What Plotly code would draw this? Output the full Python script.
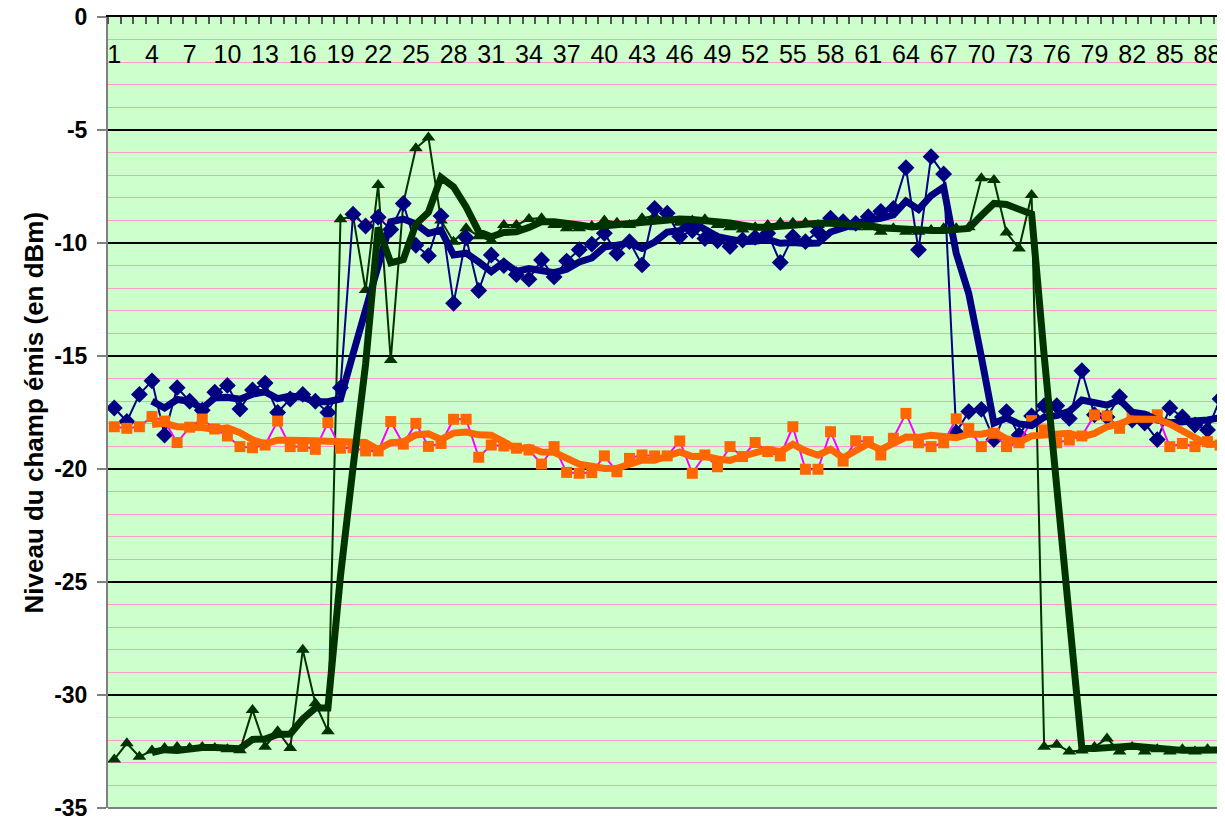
import numpy as np
import plotly.graph_objects as go

categories = list(range(1, 90))

blue_raw = [-17.3, -17.9, -16.7, -16.1, -18.5, -16.4, -17.0, -17.4, -16.6, -16.3,
            -17.35, -16.5, -16.2, -17.5, -16.9, -16.7, -17.0, -17.5, -16.4, -8.73,
            -9.25, -8.86, -9.4, -8.25, -10.1, -10.56, -8.8, -12.67, -9.77, -12.1,
            -10.53, -11.0, -11.4, -11.6, -10.75, -11.5, -10.8, -10.3, -10.05, -9.57,
            -10.46, -9.94, -10.97, -8.47, -8.68, -9.71, -9.45, -9.8, -9.9, -10.16,
            -9.87, -9.75, -9.57, -10.86, -9.72, -9.94, -9.5, -8.9, -9.06, -9.13,
            -8.84, -8.6, -8.47, -6.67, -10.3, -6.18, -6.95, -18.38, -17.46, -17.36,
            -18.7, -17.46, -18.5, -17.65, -17.2, -17.2, -17.76, -15.65, -17.6, -17.7,
            -16.8, -17.83, -17.97, -18.7, -17.3, -17.7, -18.05, -18.27, -16.9]

green_raw = [-32.85, -32.14, -32.73, -32.46, -32.35, -32.3, -32.35, -32.3, -32.35, -32.4,
             -32.45, -30.66, -32.29, -31.6, -32.35, -28.0, -30.37, -31.6, -8.95, -8.8,
             -12.08, -7.43, -15.18, -8.24, -5.81, -5.33, -9.0, -9.94, -9.35, -9.7,
             -9.9, -9.2, -9.2, -8.94, -8.9, -9.2, -9.35, -9.35, -9.25, -9.0,
             -9.1, -9.2, -8.9, -8.8, -8.95, -9.1, -9.0, -8.95, -9.2, -9.3,
             -9.4, -9.3, -9.2, -9.1, -9.1, -9.1, -9.2, -9.1, -9.2, -9.3,
             -9.3, -9.5, -9.35, -9.5, -9.5, -9.43, -9.35, -9.35, -9.3, -7.14,
             -7.21, -9.54, -10.24, -7.88, -32.29, -32.2, -32.5, -32.46, -32.3, -31.92,
             -32.5, -32.3, -32.5, -32.4, -32.5, -32.4, -32.5, -32.4, -32.4]

orange_raw = [-18.13, -18.2, -18.13, -17.68, -17.88, -18.83, -18.15, -17.79, -18.23, -18.54,
              -19.01, -19.06, -18.94, -17.88, -19.01, -19.0, -19.13, -17.95, -19.08, -19.06,
              -19.2, -19.2, -17.9, -18.9, -17.98, -19.0, -18.87, -17.8, -17.8, -19.48,
              -18.94, -18.98, -19.08, -19.16, -19.78, -19.01, -20.15, -20.19, -20.16, -19.42,
              -20.12, -19.53, -19.38, -19.42, -19.42, -18.76, -20.19, -19.38, -19.9, -19.01,
              -19.45, -18.83, -19.23, -19.42, -18.13, -20.01, -20.01, -18.35, -19.65, -18.75,
              -18.79, -19.38, -18.64, -17.54, -18.84, -19.01, -18.84, -17.78, -18.2, -19.01,
              -18.42, -19.01, -18.84, -17.86, -18.27, -18.84, -18.72, -18.54, -17.61, -17.65,
              -18.2, -17.7, -17.7, -17.6, -19.01, -18.87, -19.01, -18.79, -18.94]

y_tick_vals = [0, -5, -10, -15, -20, -25, -30, -35]
y_tick_text = ["0", "-5", "-10", "-15", "-20", "-25", "-30", "-35"]
y_title = "Niveau du champ émis (en dBm)"

PERIOD = 4


def moving_average(vals, n):
    arr = np.array(vals, dtype=float)
    return np.convolve(arr, np.ones(n) / n, mode="valid")


x = np.array(categories)
x_ma = x[PERIOD - 1:]

BLUE = "#000080"
GREEN = "#003300"
ORANGE = "#FF6600"
MAGENTA = "#FF00FF"
FONT = "Liberation Sans, Arial, sans-serif"

fig = go.Figure()

fig.add_trace(go.Scatter(x=x, y=green_raw, mode="lines+markers",
                         line=dict(color=GREEN, width=2),
                         marker=dict(symbol="triangle-up", size=12, color=GREEN),
                         showlegend=False))
fig.add_trace(go.Scatter(x=x, y=blue_raw, mode="lines+markers",
                         line=dict(color=BLUE, width=2),
                         marker=dict(symbol="diamond", size=13, color=BLUE),
                         showlegend=False))
fig.add_trace(go.Scatter(x=x, y=orange_raw, mode="lines+markers",
                         line=dict(color=MAGENTA, width=2),
                         marker=dict(symbol="square", size=11, color=ORANGE),
                         showlegend=False))
fig.add_trace(go.Scatter(x=x_ma, y=moving_average(blue_raw, PERIOD), mode="lines",
                         line=dict(color=BLUE, width=7), showlegend=False))
fig.add_trace(go.Scatter(x=x_ma, y=moving_average(orange_raw, PERIOD), mode="lines",
                         line=dict(color=ORANGE, width=7), showlegend=False))
fig.add_trace(go.Scatter(x=x_ma, y=moving_average(green_raw, PERIOD), mode="lines",
                         line=dict(color=GREEN, width=7), showlegend=False))

# The page body adds an 8 px offset; the figure is sized to fill the rest.
fig.update_layout(
    width=1217, height=815,
    margin=dict(l=100, r=0, t=9, b=15),
    paper_bgcolor="white",
    plot_bgcolor="#CCFFCC",
    font=dict(family=FONT, color="black"),
    showlegend=False,
)

fig.update_xaxes(
    type="linear", range=[0.5, 89.39], side="top", automargin=False,
    showline=True, linecolor="black", linewidth=2,
    ticks="", tick0=1, dtick=3,
    ticklabelposition="inside", ticklabeloverflow="allow",
    tickfont=dict(size=25, family=FONT, color="black"),
    ticklabelstandoff=30,
    showgrid=False, zeroline=False,
    minor=dict(ticks="inside", ticklen=7, tick0=0.5, dtick=1,
               tickcolor="#555555", tickwidth=1.5, showgrid=False),
)

fig.update_yaxes(
    range=[-35, 0], tickmode="array", tickvals=y_tick_vals, ticktext=y_tick_text,
    automargin=False, ticklabeloverflow="allow",
    showgrid=True, gridcolor="black", gridwidth=2,
    ticks="outside", ticklen=9, tickcolor="#808080", tickwidth=2,
    showline=True, linecolor="#808080", linewidth=2,
    tickfont=dict(size=23, family=FONT, color="black", weight="bold"),
    ticklabelstandoff=5,
    zeroline=False,
    minor=dict(dtick=1, tick0=0, showgrid=True, gridcolor="#FF99CC", gridwidth=1),
)

fig.add_shape(type="line", xref="paper", yref="paper", x0=0, x1=1, y0=0, y1=0,
              line=dict(color="#808080", width=2))

fig.add_annotation(text=y_title, xref="paper", yref="paper", x=0, y=0.5,
                   xanchor="center", yanchor="middle", xshift=-75, textangle=-90,
                   showarrow=False,
                   font=dict(size=26, family=FONT, color="black", weight="bold"))

fig.write_html("out.html")
